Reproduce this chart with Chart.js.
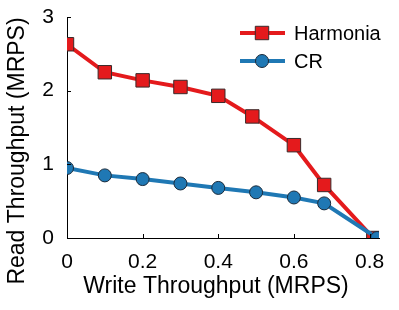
<!DOCTYPE html>
<html>
<head>
<meta charset="utf-8">
<script src="https://cdn.jsdelivr.net/npm/chart.js@4.4.0/dist/chart.umd.min.js"></script>
<style>
  html, body { margin: 0; padding: 0; background: #fff; }
  canvas { display: block; }
</style>
</head>
<body>
<canvas id="chart" width="399" height="310"></canvas>
<script>
// data
const seriesNames = ['Harmonia', 'CR'];
const harmoniaX = [0, 0.1, 0.2, 0.3, 0.4, 0.49, 0.6, 0.68, 0.81];
const harmoniaY = [2.63, 2.25, 2.14, 2.05, 1.93, 1.65, 1.26, 0.72, 0];
const crX = [0, 0.1, 0.2, 0.3, 0.4, 0.5, 0.6, 0.68, 0.82];
const crY = [0.95, 0.85, 0.80, 0.74, 0.68, 0.62, 0.55, 0.47, 0];
const xTicks = [0, 0.2, 0.4, 0.6, 0.8];
const yTicks = [0, 1, 2, 3];
const xTitle = 'Write Throughput (MRPS)';
const yTitle = 'Read Throughput (MRPS)';

const FONT = '"Liberation Sans", Arial, sans-serif';
const RED = '#e41a1c';
const BLUE = '#1f78b4';

const toPoints = (xs, ys) => xs.map((x, i) => ({ x: x, y: ys[i] }));

// inward tick marks, like the original plot
const innerTicks = {
  id: 'innerTicks',
  afterDraw(chart) {
    const ctx = chart.ctx;
    const xs = chart.scales.x, ys = chart.scales.y;
    const area = chart.chartArea;
    ctx.save();
    ctx.strokeStyle = '#000';
    ctx.lineWidth = 1;
    ctx.beginPath();
    xs.ticks.forEach(t => {
      const px = Math.round(xs.getPixelForValue(t.value)) + 0.5;
      ctx.moveTo(px, area.bottom);
      ctx.lineTo(px, area.bottom - 4);
    });
    ys.ticks.forEach(t => {
      const py = Math.round(ys.getPixelForValue(t.value)) + 0.5;
      ctx.moveTo(area.left, py);
      ctx.lineTo(area.left + 4, py);
    });
    ctx.stroke();
    ctx.restore();
  }
};

// axis titles: the original ones are not centred on the plot area
const axisTitles = {
  id: 'axisTitles',
  afterDraw(chart) {
    const ctx = chart.ctx;
    ctx.save();
    ctx.fillStyle = '#000';
    ctx.textAlign = 'center';
    ctx.textBaseline = 'middle';
    ctx.font = '23px ' + FONT;
    ctx.fillText(xTitle, 216, 287);
    ctx.translate(18, 151);
    ctx.rotate(-Math.PI / 2);
    ctx.fillText(yTitle, 0, 0);
    ctx.restore();
  }
};

// legend with a line through the marker
const lineLegend = {
  id: 'lineLegend',
  afterDraw(chart) {
    const ctx = chart.ctx;
    ctx.save();
    chart.data.datasets.forEach((ds, i) => {
      const y = 33 + i * 28;
      ctx.strokeStyle = ds.borderColor;
      ctx.lineWidth = 4;
      ctx.beginPath();
      ctx.moveTo(240, y);
      ctx.lineTo(285, y);
      ctx.stroke();
      ctx.fillStyle = ds.pointBackgroundColor;
      ctx.strokeStyle = ds.pointBorderColor;
      ctx.lineWidth = ds.pointBorderWidth;
      ctx.beginPath();
      if (ds.pointStyle === 'rect') {
        const s = ds.pointRadius * Math.SQRT1_2;
        ctx.rect(262 - s, y - s, 2 * s, 2 * s);
      } else {
        ctx.arc(262, y, ds.pointRadius, 0, Math.PI * 2);
      }
      ctx.fill();
      ctx.stroke();
      ctx.fillStyle = '#000';
      ctx.font = '20px ' + FONT;
      ctx.textBaseline = 'middle';
      ctx.fillText(ds.label, 294, y + 1);
    });
    ctx.restore();
  }
};

new Chart(document.getElementById('chart'), {
  type: 'scatter',
  data: {
    datasets: [{
      label: seriesNames[0],
      data: toPoints(harmoniaX, harmoniaY),
      showLine: true,
      borderColor: RED,
      borderWidth: 4,
      pointStyle: 'rect',
      pointRadius: 9.5,
      pointBackgroundColor: RED,
      pointBorderColor: '#3a2a2a',
      pointBorderWidth: 1,
      order: 2
    }, {
      label: seriesNames[1],
      data: toPoints(crX, crY),
      showLine: true,
      borderColor: BLUE,
      borderWidth: 4,
      pointStyle: 'circle',
      pointRadius: 6.5,
      pointBackgroundColor: BLUE,
      pointBorderColor: '#1a2a3a',
      pointBorderWidth: 1,
      order: 1
    }]
  },
  options: {
    responsive: false,
    animation: false,
    layout: { padding: { top: 17, right: 20, left: 0, bottom: 0 } },
    plugins: { legend: { display: false }, tooltip: { enabled: false } },
    scales: {
      x: {
        type: 'linear',
        min: 0,
        max: 0.825,
        afterBuildTicks: s => { s.ticks = xTicks.map(v => ({ value: v })); },
        afterFit: s => { s.height = 72; s.paddingLeft = 0; s.paddingRight = 0; },
        grid: { display: true, drawOnChartArea: false, drawTicks: false },
        border: { display: true, color: '#000', width: 1 },
        ticks: { color: '#000', padding: 12, font: { family: FONT, size: 21 }, maxRotation: 0 }
      },
      y: {
        type: 'linear',
        min: 0,
        max: 3,
        afterBuildTicks: s => { s.ticks = yTicks.map(v => ({ value: v })); },
        afterFit: s => { s.width = 67; s.paddingTop = 0; s.paddingBottom = 0; },
        grid: { display: true, drawOnChartArea: false, drawTicks: false },
        border: { display: true, color: '#000', width: 1 },
        ticks: { color: '#000', padding: 13, font: { family: FONT, size: 21 } }
      }
    }
  },
  plugins: [innerTicks, axisTitles, lineLegend]
});
</script>
</body>
</html>
